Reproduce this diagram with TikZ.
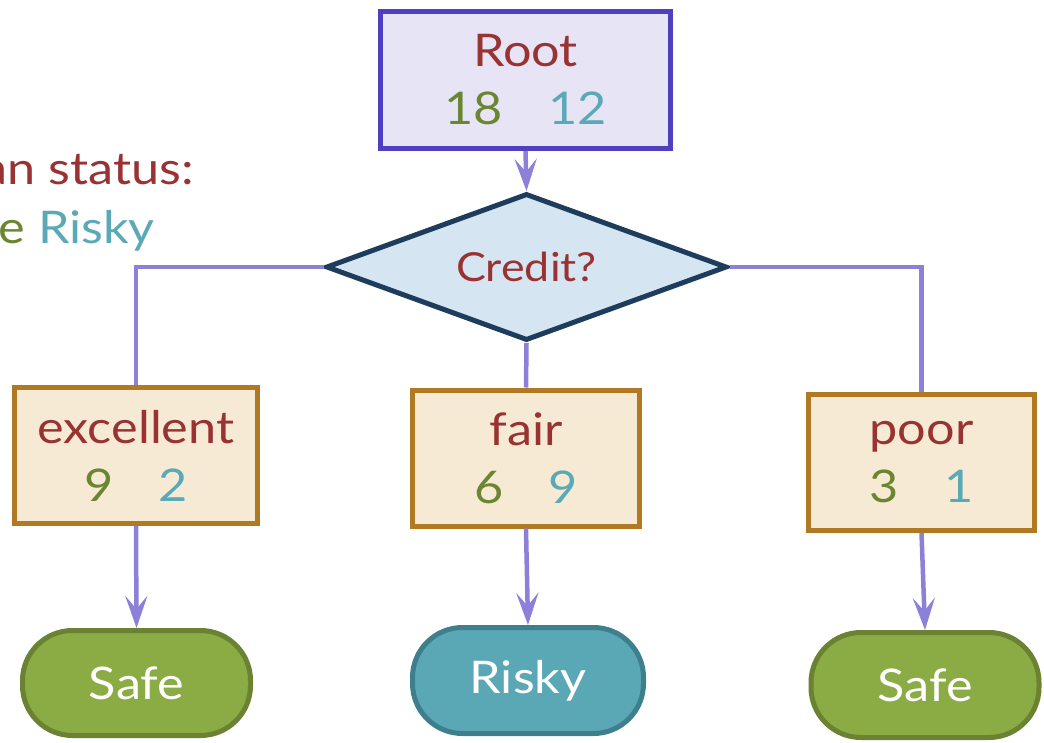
\documentclass[tikz,border=0pt]{standalone}
\usepackage{fontspec}
\setmainfont[FakeStretch=1.12]{Lato}
\usetikzlibrary{shapes.geometric,arrows.meta}
\definecolor{txtred}{HTML}{993333}
\definecolor{txtgreen}{HTML}{6B8530}
\definecolor{txtteal}{HTML}{5AA9B7}
\definecolor{rootfill}{HTML}{E6E4F5}
\definecolor{rootdraw}{HTML}{5040C0}
\definecolor{dfill}{HTML}{D5E5F2}
\definecolor{ddraw}{HTML}{1E3D5C}
\definecolor{bfill}{HTML}{F7EAD5}
\definecolor{bdraw}{HTML}{B07A25}
\definecolor{safefill}{HTML}{8BAB44}
\definecolor{safedraw}{HTML}{6A8232}
\definecolor{riskfill}{HTML}{5AA8B5}
\definecolor{riskdraw}{HTML}{3D7F8C}
\definecolor{conn}{HTML}{8C80D8}
\tikzset{
  x=1pt, y=-1pt,
  every node/.style={font=\fontsize{45}{58}\selectfont, inner sep=0pt, align=center},
  rootbox/.style={draw=rootdraw, fill=rootfill, line width=5pt, minimum width=290pt, minimum height=137pt},
  decision/.style={diamond, shape aspect=2.8, draw=ddraw, fill=dfill, line width=5pt, minimum width=401pt, minimum height=147pt},
  valbox/.style={draw=bdraw, fill=bfill, line width=5pt, minimum height=136pt},
  safeleaf/.style={draw=safedraw, fill=safefill, line width=5pt, rounded corners=50pt, minimum width=228pt, minimum height=105pt, text=white},
  riskleaf/.style={draw=riskdraw, fill=riskfill, line width=5pt, rounded corners=50pt, minimum width=231pt, minimum height=106pt, text=white},
  link/.style={draw=conn, line width=4.5pt},
  arr/.style={link, -{Stealth[length=32pt, width=22pt, inset=13pt]}},
}
\newcommand{\nums}[2]{\textcolor{txtgreen}{#1}\quad\textcolor{txtteal}{#2}}
\begin{document}
\begin{tikzpicture}
\useasboundingbox (0,0) rectangle (1044,742);
% legend
\node[anchor=base east, text=txtred] (leg1) at (194,184) {Loan status:};
\node[anchor=base east] (leg2) at (155,243) {\textcolor{txtgreen}{Safe} \textcolor{txtteal}{Risky}};
% nodes
\node[rootbox, text=txtred] (root) at (525.5,80) {Root\\\nums{18}{12}};
\node[decision, text=txtred, font=\fontsize{40}{48}\selectfont] (credit) at (526.5,267) {Credit?};
\node[valbox, minimum width=243pt, text=txtred] (ex) at (136,455.5) {excellent\\\nums{9}{2}};
\node[valbox, minimum width=227pt, text=txtred] (fa) at (526,458) {fair\\\nums{6}{9}};
\node[valbox, minimum width=226pt, text=txtred] (po) at (921.5,462.5) {poor\\\nums{3}{1}};
\node[safeleaf] (s1) at (136.5,683) {Safe};
\node[riskleaf] (rk) at (528,680.5) {Risky};
\node[safeleaf] (s2) at (925,685) {Safe};
% connectors
\draw[arr] (root.south) -- (credit.north);
\draw[link] (credit.west) -| (ex.north);
\draw[link] (credit.east) -| (po.north);
\draw[link] (credit.south) -- (fa.north);
\draw[arr] (ex.south) -- (s1.north);
\draw[arr] (fa.south) -- (rk.north);
\draw[arr] (po.south) -- (s2.north);
\end{tikzpicture}
\end{document}
